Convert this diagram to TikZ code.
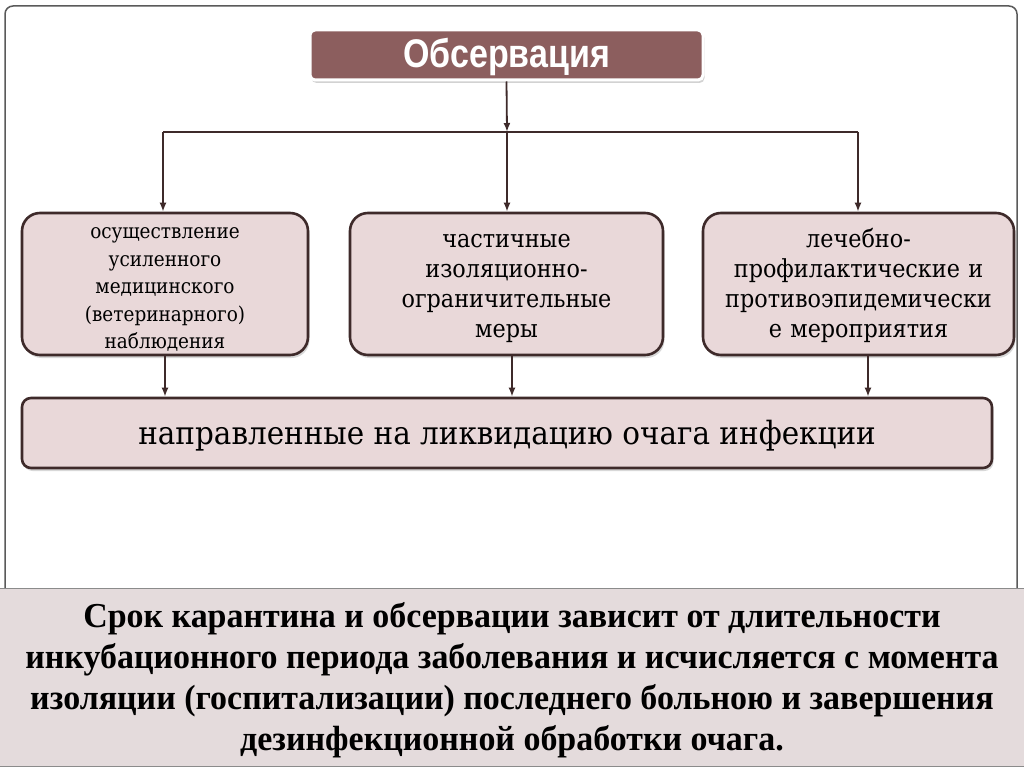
\documentclass[tikz,border=0pt]{standalone}
\usepackage{fontspec}
\setmainfont{Liberation Serif}
\newfontfamily\headfont[FakeStretch=0.85]{Liberation Sans}
\newfontfamily\boxfont[FakeStretch=0.9]{DejaVu Serif}
\newfontfamily\wideboxfont[FakeStretch=0.92]{DejaVu Serif}
\newfontfamily\bandfont[FakeStretch=0.97]{Liberation Serif}
\usetikzlibrary{shadows,arrows.meta}
\definecolor{headfill}{RGB}{140,94,94}
\definecolor{boxfill}{RGB}{233,216,217}
\definecolor{boxline}{RGB}{62,42,42}
\definecolor{bandfill}{RGB}{228,219,220}
\definecolor{framegray}{RGB}{90,90,90}
\newcommand{\topstrut}{\rule{0pt}{22pt}}
\tikzset{
  headbox/.style={draw=white, line width=3pt, fill=headfill, rounded corners=5pt,
    minimum width=393pt, minimum height=50pt, text=white, inner sep=0pt,
    font=\headfont\bfseries\fontsize{40}{44}\selectfont,
    drop shadow={opacity=0.35, shadow xshift=1.5pt, shadow yshift=-3pt}},
  itembox/.style={draw=boxline, line width=2.6pt, fill=boxfill, rounded corners=18pt,
    minimum height=142pt, align=center, inner sep=0pt,
    drop shadow={opacity=0.3, shadow xshift=1.5pt, shadow yshift=-3pt}},
  smalltext/.style={font=\boxfont\fontsize{20.5}{27.5}\selectfont},
  bigtext/.style={font=\boxfont\fontsize{24.8}{30}\selectfont},
  widebox/.style={draw=boxline, line width=2.6pt, fill=boxfill, rounded corners=9pt,
    minimum width=970pt, minimum height=70pt, inner sep=0pt,
    font=\wideboxfont\fontsize{32}{36}\selectfont,
    drop shadow={opacity=0.3, shadow xshift=1.5pt, shadow yshift=-3pt}},
  band/.style={fill=bandfill, draw=framegray!70, line width=1pt, minimum width=1026pt,
    minimum height=178pt, inner sep=0pt, align=center,
    font=\bandfont\bfseries\fontsize{35}{41}\selectfont},
  conn/.style={draw=boxline, line width=1.8pt},
  arr/.style={conn, -{Latex[length=9pt,width=7pt]}}
}
\begin{document}
\begin{tikzpicture}[x=1pt,y=-1pt]
\useasboundingbox (0,0) rectangle (1024,767);
\fill[white] (0,0) rectangle (1024,767);
% outer frame
\draw[framegray, line width=1.5pt, rounded corners=8pt] (5,600) -- (5,6) -- (1017,6) -- (1017,600);
% top box
\node[headbox] (top) at (506.5,55) {\rule{0pt}{33pt}Обсервация};
% item boxes
\node[itembox, smalltext, minimum width=286pt, text width=280pt] (b1) at (165,284)
  {\topstrut осуществление\\усиленного\\медицинского\\(ветеринарного)\\наблюдения};
\node[itembox, bigtext, minimum width=313pt, text width=305pt] (b2) at (506.5,284)
  {\topstrut частичные\\изоляционно-\\ограничительные\\меры};
\node[itembox, bigtext, minimum width=311pt, text width=305pt] (b3) at (858.5,284)
  {\topstrut лечебно-\\профилактические и\\противоэпидемически\\е мероприятия};
% wide box
\node[widebox] (wide) at (507,433) {\rule{0pt}{30pt}направленные на ликвидацию очага инфекции};
% bottom band
\node[band] (bandnode) at (512,677)
  {\rule{0pt}{32pt}Срок карантина и обсервации зависит от длительности\\инкубационного периода заболевания и исчисляется с момента\\изоляции (госпитализации) последнего больною и завершения\\дезинфекционной обработки очага.};
% connectors
\coordinate (j) at (507,132);
\coordinate (jl) at (163,132);
\coordinate (jr) at (858,132);
\draw[arr] (top.south) -- (j);
\draw[conn] (jl) -- (jr);
\draw[arr] (jl) -- (jl |- b1.north);
\draw[arr] (j) -- (j |- b2.north);
\draw[arr] (jr) -- (jr |- b3.north);
\coordinate (o1) at (165,355);
\coordinate (o2) at (512,355);
\coordinate (o3) at (868,355);
\draw[arr] (o1) -- (o1 |- wide.north);
\draw[arr] (o2) -- (o2 |- wide.north);
\draw[arr] (o3) -- (o3 |- wide.north);
\end{tikzpicture}
\end{document}
